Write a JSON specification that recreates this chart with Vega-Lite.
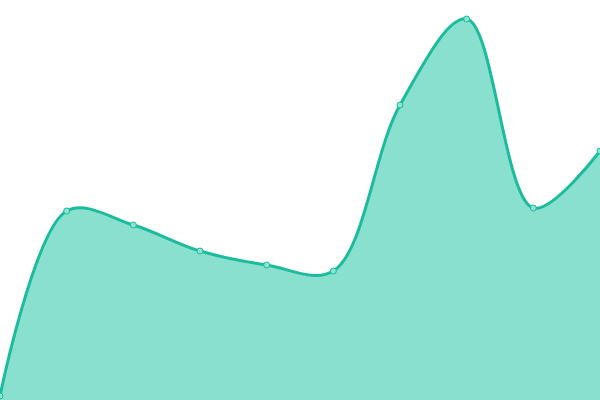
{
  "$schema": "https://vega.github.io/schema/vega-lite/v6.json",
  "width": 600,
  "height": 400,
  "autosize": {"type": "none"},
  "padding": 0,
  "background": "white",
  "config": {"view": {"stroke": null}},
  "data": {
    "values": [
      {"i": 0, "v": 4},
      {"i": 1, "v": 189},
      {"i": 2, "v": 175},
      {"i": 3, "v": 149},
      {"i": 4, "v": 135},
      {"i": 5, "v": 129},
      {"i": 6, "v": 295},
      {"i": 7, "v": 381},
      {"i": 8, "v": 192},
      {"i": 9, "v": 249}
    ]
  },
  "encoding": {
    "x": {"field": "i", "type": "quantitative", "axis": null, "scale": {"domain": [0, 9], "nice": false, "zero": false}},
    "y": {"field": "v", "type": "quantitative", "axis": null, "scale": {"domain": [0, 400], "nice": false}}
  },
  "layer": [
    {
      "mark": {"type": "area", "interpolate": "catmull-rom", "color": "#89e0cf", "opacity": 1, "clip": true}
    },
    {
      "mark": {"type": "line", "interpolate": "catmull-rom", "color": "#1abc9c", "strokeWidth": 3, "clip": true}
    },
    {
      "mark": {"type": "point", "filled": true, "fill": "#8ee3d2", "stroke": "#1abc9c", "strokeWidth": 1, "size": 36, "opacity": 1}
    }
  ]
}
